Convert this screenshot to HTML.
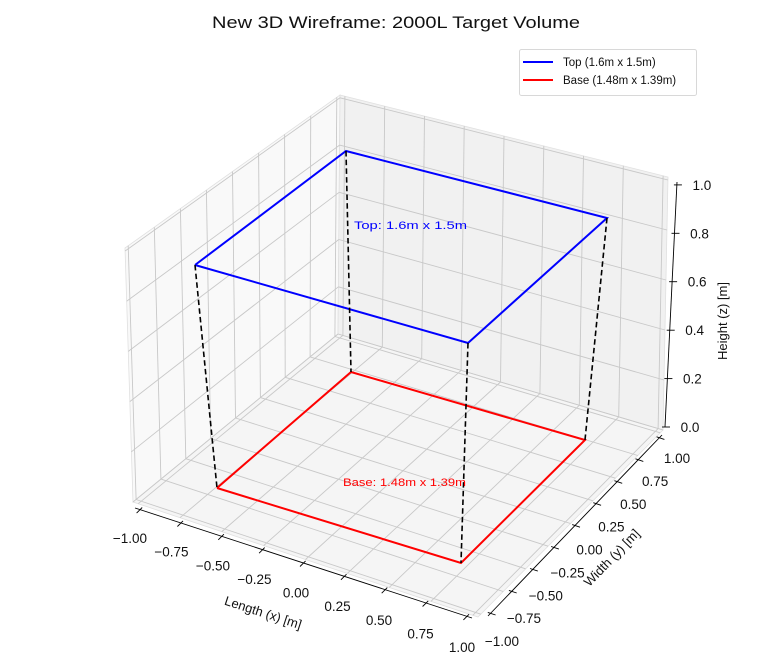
<!DOCTYPE html>
<html><head><meta charset="utf-8"><style>
html,body{margin:0;padding:0;background:#fff;}
svg{display:block;font-family:"Liberation Sans",sans-serif;}
</style></head><body>
<svg id="s" width="784" height="672" viewBox="0 0 784 672" xmlns="http://www.w3.org/2000/svg">
<text x="396" y="28" font-size="16.5" text-anchor="middle" fill="#111" textLength="368" lengthAdjust="spacingAndGlyphs">New 3D Wireframe: 2000L Target Volume</text>
<g id="panes"></g>
<g id="grid" stroke="#c8c8c8" stroke-width="0.9" fill="none"></g>
<g id="axes" stroke="#000" stroke-width="0.9" fill="none"></g>
<g id="labels" font-size="13.5" fill="#111"></g>
<text x="263" y="617" font-size="13" fill="#111" text-anchor="middle" transform="rotate(18 263 613)">Length (x) [m]</text>
<text x="612" y="562" font-size="13" fill="#111" text-anchor="middle" transform="rotate(-46 612 558)">Width (y) [m]</text>
<text x="731" y="325" font-size="13" fill="#111" text-anchor="middle" transform="rotate(-90 727 325)">Height (z) [m]</text>
<g fill="none" stroke-width="2">
<polyline points="195,265 346,151 607,218 468,343 195,265" stroke="#0000ff"/>
<polyline points="217,488 351,372 585,440 461,563 217,488" stroke="#ff0000"/>
<g stroke="#000" stroke-width="1.6" stroke-dasharray="5.5,3.2">
<line x1="195" y1="265" x2="217" y2="488"/>
<line x1="346" y1="151" x2="351" y2="372"/>
<line x1="607" y1="218" x2="585" y2="440"/>
<line x1="468" y1="343" x2="461" y2="563"/>
</g>
</g>
<text x="354" y="229" font-size="11" fill="#0000ff" textLength="113" lengthAdjust="spacingAndGlyphs">Top: 1.6m x 1.5m</text>
<text x="343" y="486" font-size="11" fill="#ff0000" textLength="123" lengthAdjust="spacingAndGlyphs">Base: 1.48m x 1.39m</text>
<rect x="519.5" y="49.5" width="177" height="46" rx="2" fill="#fff" stroke="#d8d8d8"/>
<line x1="523" y1="62" x2="553" y2="62" stroke="#0000ff" stroke-width="2"/>
<line x1="523" y1="80" x2="553" y2="80" stroke="#ff0000" stroke-width="2"/>
<text x="563" y="66" font-size="11.5" fill="#111">Top (1.6m x 1.5m)</text>
<text x="563" y="84" font-size="11.5" fill="#111">Base (1.48m x 1.39m)</text>
</svg>
<script>
(function(){
var NS="http://www.w3.org/2000/svg";
function el(p,t,a){var e=document.createElementNS(NS,t);for(var k in a)e.setAttribute(k,a[k]);document.getElementById(p).appendChild(e);return e;}
function lerp(a,b,t){return [a[0]+(b[0]-a[0])*t,a[1]+(b[1]-a[1])*t];}
function bil(A,B,C,D,u,v){return lerp(lerp(A,B,u),lerp(D,C,u),v);}
var L=[133,502],F=[478,617],R=[663,430],B=[338,334],Lt=[125,248],Bt=[340,95],Rt=[668,177];
function poly(pts,fill){el('panes','polygon',{points:pts.map(function(p){return p.join(',')}).join(' '),fill:fill,stroke:'#e0e0e0','stroke-width':0.8});}
poly([L,B,Bt,Lt],'#f9f9f9');
poly([B,R,Rt,Bt],'#f1f1f1');
poly([L,F,R,B],'#f5f5f5');
function line(g,p,q){el(g,'line',{x1:p[0].toFixed(1),y1:p[1].toFixed(1),x2:q[0].toFixed(1),y2:q[1].toFixed(1)});}
var m=0.015;
function uu(x){return m+(1-2*m)*(x+1)/2;}
var ticks=[-1,-0.75,-0.5,-0.25,0,0.25,0.5,0.75,1];
var zt=[0,0.2,0.4,0.6,0.8,1.0];
function zz(z){return z/1.012;}
ticks.forEach(function(t){var u=uu(t);
 line('grid',bil(L,F,R,B,u,0),bil(L,F,R,B,u,1));
 line('grid',bil(L,F,R,B,0,u),bil(L,F,R,B,1,u));
 line('grid',bil(L,B,Bt,Lt,u,0),bil(L,B,Bt,Lt,u,1));
 line('grid',bil(B,R,Rt,Bt,u,0),bil(B,R,Rt,Bt,u,1));
});
zt.forEach(function(z){var v=zz(z);
 line('grid',bil(L,B,Bt,Lt,0,v),bil(L,B,Bt,Lt,1,v));
 line('grid',bil(B,R,Rt,Bt,0,v),bil(B,R,Rt,Bt,1,v));
});
var xa0=[135,508],xa1=[472,618],ya0=[488,616],ya1=[662,435],za0=[665,427],za1=[677,182];
line('axes',xa0,xa1);line('axes',ya0,ya1);line('axes',za0,za1);
var xl=[[130,538],[462,647]], yl=[[502,641],[677,458]];
function fmt(t){var s=Math.abs(t).toFixed(2);return (t<0?'\u2212':'')+s;}
ticks.forEach(function(t,i){var u=uu(t);
 var p=lerp(xa0,xa1,u); line('axes',[p[0]+2.1,p[1]-2.1],[p[0]-3.5,p[1]+3.5]);
 var q=lerp(ya0,ya1,u); line('axes',[q[0]-2.8,q[1]-0.9],[q[0]+5,q[1]+1.7]);
 var a=lerp(xl[0],xl[1],i/8); var e=el('labels','text',{x:a[0].toFixed(1),y:(a[1]+5).toFixed(1),'text-anchor':'middle'}); e.textContent=fmt(t);
 var b=lerp(yl[0],yl[1],i/8); e=el('labels','text',{x:b[0].toFixed(1),y:(b[1]+5).toFixed(1),'text-anchor':'middle'}); e.textContent=fmt(t);
});
zt.forEach(function(z,i){var v=zz(z);var p=lerp(za0,za1,v);
 line('axes',[p[0]-3,p[1]],[p[0]+5,p[1]]);
 var e=el('labels','text',{x:(p[0]+25).toFixed(1),y:(p[1]+5).toFixed(1),'text-anchor':'middle'}); e.textContent=z.toFixed(1);
});
})();
</script>
</body></html>
